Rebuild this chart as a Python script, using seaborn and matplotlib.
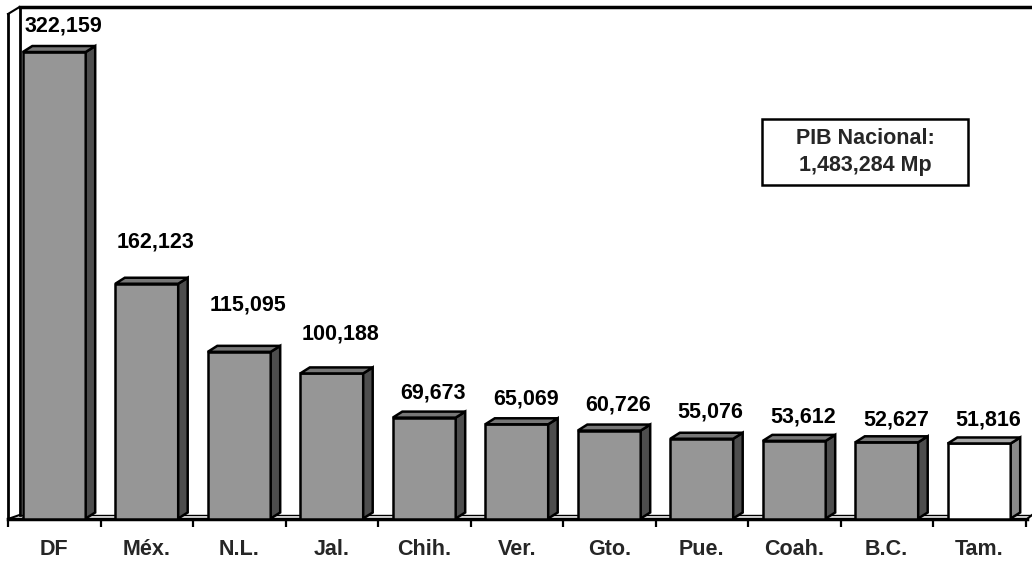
import numpy as np
import pandas as pd
import matplotlib
matplotlib.use("Agg")
import matplotlib.pyplot as plt
import seaborn as sns
from matplotlib.patches import Polygon, Rectangle
from matplotlib.lines import Line2D
from matplotlib.transforms import IdentityTransform

# ---- data ----
states = ["DF", "Méx.", "N.L.", "Jal.", "Chih.", "Ver.", "Gto.", "Pue.", "Coah.", "B.C.", "Tam."]
pib = [322159, 162123, 115095, 100188, 69673, 65069, 60726, 55076, 53612, 52627, 51816]
value_labels = ["322,159", "162,123", "115,095", "100,188", "69,673", "65,069",
                "60,726", "55,076", "53,612", "52,627", "51,816"]
highlight = "Tam."
note_text = "PIB Nacional:\n1,483,284 Mp"

# label placement (pixels above bar front top, as in the reference)
label_lift_px = [20.5, 36.5, 41.5, 33.5, 19.5, 19.5, 20.5, 21.5, 18.5, 16.5, 18.0]

sns.set_style("white")
plt.rcParams["font.family"] = ["Liberation Sans", "DejaVu Sans"]

W, H = 1032, 561
fig = plt.figure(figsize=(W / 100, H / 100), dpi=100)
fig.patch.set_facecolor("white")


def fx(px):
    return px / W


def fy(py):
    return 1 - py / H


ax_l, ax_r, ax_b, ax_t = 8, 1025.5, 518.5, 7
ax = fig.add_axes([fx(ax_l), fy(ax_b), (ax_r - ax_l) / W, (ax_b - ax_t) / H])
ax.patch.set_visible(False)

df = pd.DataFrame({"estado": states, "pib": pib})
palette = {s: ("#ffffff" if s == highlight else "#969696") for s in states}
sns.barplot(data=df, x="estado", y="pib", hue="estado", palette=palette, legend=False,
            width=0.68, edgecolor="black", linewidth=1.8, saturation=1, ax=ax)

FS = 15.5
ymax = max(pib) * 1.0965
ax.set_xlim(-0.5, len(states) - 0.5)
ax.set_ylim(0, ymax)
for s in ax.spines.values():
    s.set_visible(False)
ax.set_yticks([])
ax.set_xticks(range(len(states)))
ax.set_xticklabels(states, fontsize=FS, fontweight="bold")
ax.tick_params(axis="x", which="major", bottom=True, length=0, pad=15)
ax.set_xticks(np.arange(-0.5, len(states), 1), minor=True)
ax.tick_params(axis="x", which="minor", bottom=True, length=6, width=1.6,
               direction="out", color="black")
ax.set_xlabel("")
ax.set_ylabel("")

# ---- 3D frame (walls / floor) ----
frame = [
    ((8, 14), (8, 519), 2.0),
    ((8, 14), (19.5, 7), 1.5),
    ((19.5, 7), (19.5, 515), 2.0),
    ((19.5, 7), (1032, 7), 2.5),
    ((19.5, 515), (1031, 515), 1.0),
    ((8, 519), (1027, 519), 2.5),
    ((8, 519), (19.5, 515), 1.5),
    ((1027, 519), (1032, 515), 1.5),
]
for (x0, y0), (x1, y1), lw in frame:
    fig.add_artist(Line2D([fx(x0), fx(x1)], [fy(y0), fy(y1)], transform=fig.transFigure,
                          color="black", lw=lw, zorder=-1, solid_capstyle="projecting"))

# ---- 3D faces of bars ----
dx, dy = 9.5, 6.0
patches = sorted(ax.patches, key=lambda p: p.get_x())
for p, st in zip(patches, states):
    x0, w, h = p.get_x(), p.get_width(), p.get_height()
    (xl, yb), (xr, yt) = ax.transData.transform([(x0, 0), (x0 + w, h)])
    if st == highlight:
        top_c, side_c = "#a8a8a8", "#8a8a8a"
    else:
        top_c, side_c = "#777777", "#4d4d4d"
    top = Polygon([(xl, yt), (xr, yt), (xr + dx, yt + dy), (xl + dx, yt + dy)], closed=True,
                  transform=IdentityTransform(), facecolor=top_c, edgecolor="black", lw=1.8,
                  joinstyle="miter", zorder=2)
    side = Polygon([(xr, yb), (xr, yt), (xr + dx, yt + dy), (xr + dx, yb + dy)], closed=True,
                   transform=IdentityTransform(), facecolor=side_c, edgecolor="black", lw=1.8,
                   joinstyle="miter", zorder=2)
    fig.add_artist(side)
    fig.add_artist(top)

# ---- value labels ----
for i, (v, lab, lift) in enumerate(zip(pib, value_labels, label_lift_px)):
    ax.annotate(lab, xy=(i, v), xytext=(9, lift), textcoords="offset pixels",
                ha="center", va="baseline", fontsize=FS, fontweight="bold",
                color="black", annotation_clip=False)

# ---- note box ----
fig.add_artist(Rectangle((fx(762), fy(185)), fx(968) - fx(762), fy(119) - fy(185),
                         transform=fig.transFigure, facecolor="white", edgecolor="black",
                         lw=1.8, zorder=3))
fig.text(fx(865), fy(152), note_text, ha="center", va="center", ma="center",
         fontsize=FS, fontweight="bold", linespacing=1.35, zorder=4)

fig.savefig("out.png", dpi=100, facecolor="white")
